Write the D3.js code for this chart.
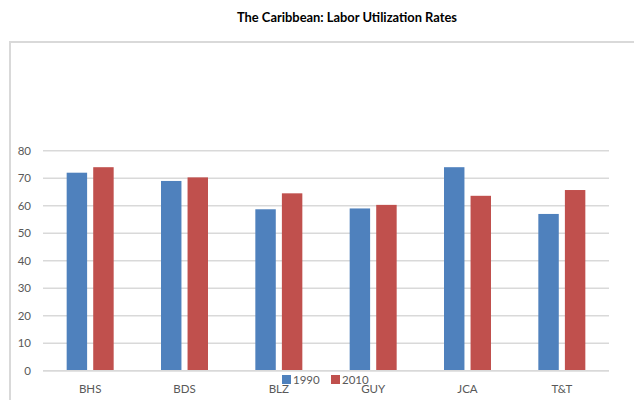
<!DOCTYPE html>
<html><head><meta charset="utf-8">
<script src="https://cdn.jsdelivr.net/npm/d3@7"></script>
<style>body{margin:0;background:#fff}svg{display:block}</style>
</head><body>
<svg id="c" width="634" height="400"></svg>
<script>
const categories = ["BHS","BDS","BLZ","GUY","JCA","T&T"];
const series = ["1990","2010"];
const values1990 = [72, 69, 58.7, 59, 74, 57];
const values2010 = [74, 70.3, 64.5, 60.3, 63.6, 65.7];
const yTicks = [0,10,20,30,40,50,60,70,80];
const colors = ["#4f81bd","#c0504d"];
const title = "The Caribbean: Labor Utilization Rates";

(function(){
const svg = d3.select("#c");
const font = "Lato, 'Open Sans', sans-serif";

// outer frame
svg.append("rect").attr("x",10).attr("y",42).attr("width",700).attr("height",400)
  .attr("fill","none").attr("stroke","#d9d9d9").attr("stroke-width",2);

svg.append("text").attr("x",347).attr("y",22).attr("text-anchor","middle")
  .attr("font-family",font).attr("font-weight","bold").attr("font-size",12.9)
  .attr("fill","#000").text(title);

const pLeft=43, pRight=609, pTop=150.7, pBottom=370.7;
const y = d3.scaleLinear().domain([0,80]).range([pBottom, pTop]);
const x0 = d3.scaleBand().domain(categories).range([pLeft,pRight]);
const groupW = 47;
const x1 = d3.scaleBand().domain(series).range([0,groupW]).paddingInner(0.23);

// gridlines
svg.append("g").selectAll("line").data(yTicks).join("line")
  .attr("x1",pLeft).attr("x2",pRight).attr("y1",d=>y(d)).attr("y2",d=>y(d))
  .attr("stroke","#d9d9d9").attr("stroke-width",1.6);

svg.append("g").selectAll("text").data(yTicks).join("text")
  .attr("x",31).attr("y",d=>y(d)+4).attr("text-anchor","end")
  .attr("font-family",font).attr("font-size",11.5).attr("fill","#595959").text(d=>d);

const data = categories.map((c,i)=>({c, vals:[values1990[i], values2010[i]]}));
const g = svg.append("g").selectAll("g").data(data).join("g")
  .attr("transform",d=>`translate(${x0(d.c)+(x0.bandwidth()-groupW)/2},0)`);
g.selectAll("rect").data(d=>d.vals.map((v,j)=>({s:series[j],v,j}))).join("rect")
  .attr("x",d=>x1(d.s)).attr("width",x1.bandwidth())
  .attr("y",d=>y(d.v)).attr("height",d=>y(0)-y(d.v))
  .attr("fill",d=>colors[d.j]);

// axis line on top
svg.append("line").attr("x1",pLeft).attr("x2",pRight).attr("y1",y(0)).attr("y2",y(0))
  .attr("stroke","#d9d9d9").attr("stroke-width",1.6);

svg.append("g").selectAll("text").data(categories).join("text")
  .attr("x",d=>x0(d)+x0.bandwidth()/2).attr("y",393).attr("text-anchor","middle")
  .attr("font-family",font).attr("font-size",11.5).attr("fill","#595959").text(d=>d);

// legend
const lg = svg.append("g").selectAll("g").data(series).join("g")
  .attr("transform",(d,i)=>`translate(${282+i*49},375)`);
lg.append("rect").attr("width",9).attr("height",9).attr("fill",(d,i)=>colors[i]);
lg.append("text").attr("x",11).attr("y",8.5).attr("font-family",font).attr("font-size",11.5)
  .attr("fill","#595959").text(d=>d);
})();
</script>
</body></html>
